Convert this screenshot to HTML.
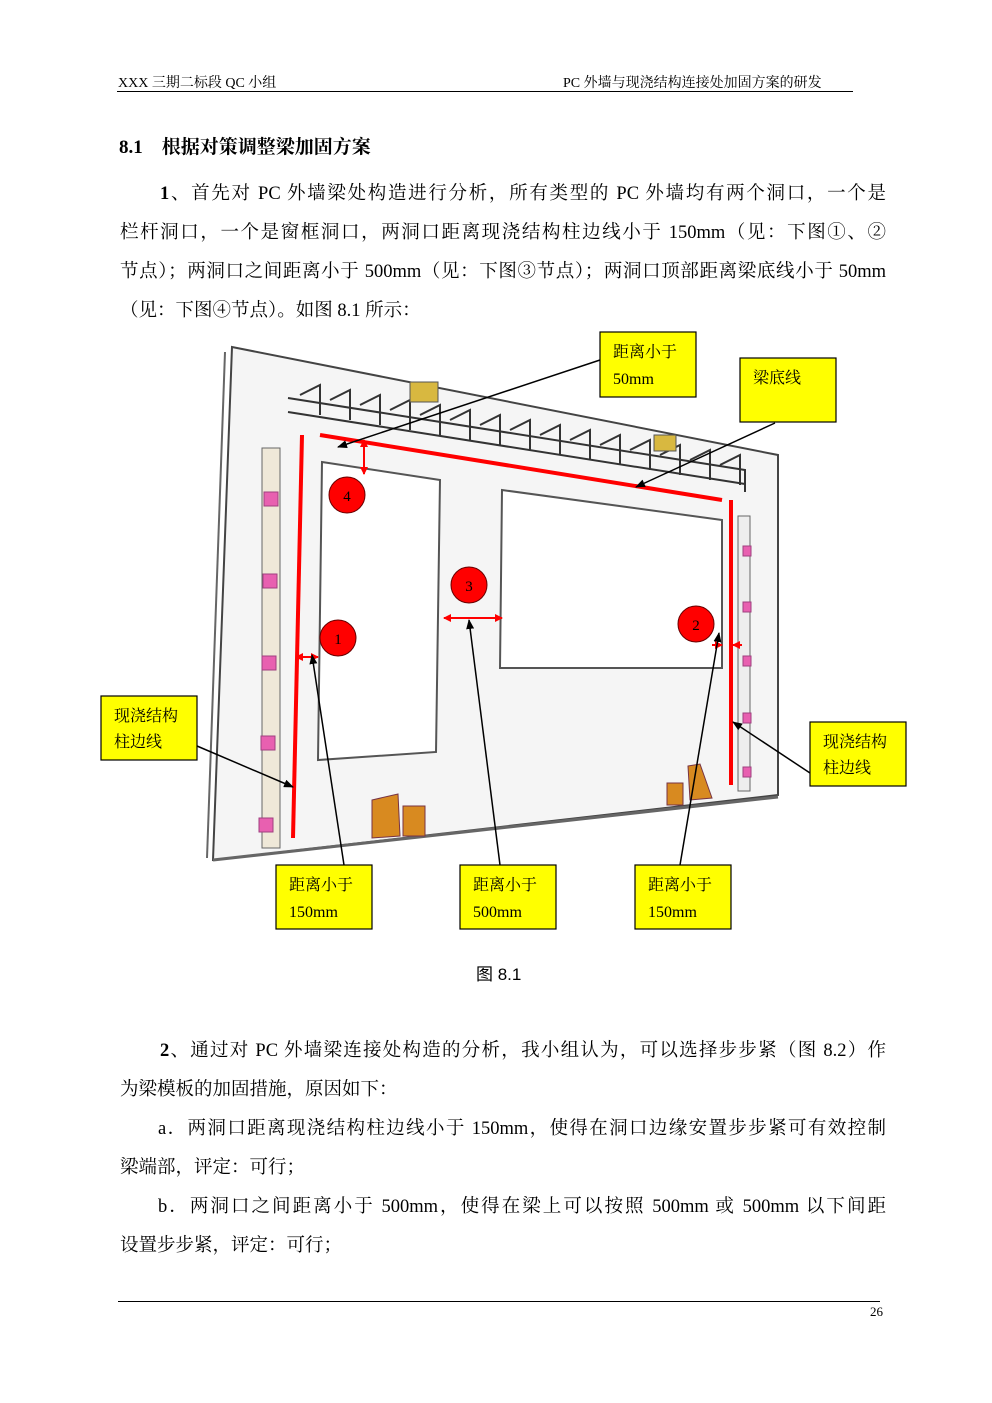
<!DOCTYPE html>
<html><head><meta charset="utf-8"><style>
body{margin:0;background:#fff;}
.pg{position:relative;width:992px;height:1403px;font-family:"Liberation Serif","Noto Serif CJK SC",serif;color:#000;}
.t{position:absolute;white-space:nowrap;}
.l{position:absolute;left:120px;width:766px;font-size:18.5px;line-height:24px;white-space:nowrap;}
.j{text-align:justify;text-align-last:justify;}
</style></head><body><div class="pg">
<div class="t" style="left:118px;top:72px;font-size:14px;">XXX 三期二标段 QC 小组</div>
<div class="t" style="left:563px;top:72px;font-size:14px;">PC 外墙与现浇结构连接处加固方案的研发</div>
<div style="position:absolute;left:117px;top:91px;width:736px;height:1px;background:#000"></div>
<div class="t" style="left:119px;top:132px;font-size:19px;font-weight:bold;">8.1　根据对策调整梁加固方案</div>
<div class="l j" style="top:182px;left:160px;width:726px;"><b>1</b>、首先对 PC 外墙梁处构造进行分析，所有类型的 PC 外墙均有两个洞口，一个是</div>
<div class="l j" style="top:221px;">栏杆洞口，一个是窗框洞口，两洞口距离现浇结构柱边线小于 150mm（见：下图①、②</div>
<div class="l j" style="top:260px;">节点）；两洞口之间距离小于 500mm（见：下图③节点）；两洞口顶部距离梁底线小于 50mm</div>
<div class="l" style="top:299px;">（见：下图④节点）。如图 8.1 所示：</div>
<svg style="position:absolute;left:0;top:0" width="992" height="1403" font-family="Liberation Serif,Noto Serif CJK SC,serif">
<defs><marker id="a" markerWidth="10" markerHeight="8" refX="9" refY="4" orient="auto" markerUnits="userSpaceOnUse"><path d="M0,0L10,4L0,8z" fill="#000"/></marker>
<marker id="r" markerWidth="8" markerHeight="8" refX="7" refY="4" orient="auto" markerUnits="userSpaceOnUse"><path d="M0,0L8,4L0,8z" fill="red"/></marker></defs>
<polygon points="232,347 778,455 778,795 213,860" fill="#f5f5f5" stroke="#444" stroke-width="2"/>
<line x1="225" y1="352" x2="207" y2="858" stroke="#666" stroke-width="2"/>
<line x1="213" y1="860" x2="778" y2="797" stroke="#666" stroke-width="3"/>
<g stroke="#333" stroke-width="2" fill="none">
<path d="M288,398 L745,470 L745,492 M288,412 L745,484"/>
<path d="M300,395l20,-10v30M330,400l20,-10v30M360,405l20,-10v30M390,410l20,-10v30M420,415l20,-10v30M450,420l20,-10v30M480,425l20,-10v30M510,430l20,-10v30M540,435l20,-10v30M570,440l20,-10v30M600,445l20,-10v30M630,450l20,-10v30M660,455l20,-10v30M690,460l20,-10v30M720,465l20,-10v30"/>
</g>
<rect x="410" y="382" width="28" height="20" fill="#d8b840" stroke="#555"/>
<rect x="654" y="435" width="22" height="16" fill="#d8b840" stroke="#555"/>
<g fill="#fff" stroke="#555" stroke-width="2">
<polygon points="322,462 440,480 436,752 318,760"/>
<polygon points="502,490 722,520 722,668 500,668"/>
</g>
<rect x="262" y="448" width="18" height="400" fill="#efe8d8" stroke="#666"/>
<rect x="738" y="516" width="12" height="275" fill="#eee" stroke="#666"/>
<g fill="#e860b0" stroke="#a04080"><rect x="264" y="492" width="14" height="14"/><rect x="263" y="574" width="14" height="14"/><rect x="262" y="656" width="14" height="14"/><rect x="261" y="736" width="14" height="14"/><rect x="259" y="818" width="14" height="14"/>
<rect x="743" y="546" width="8" height="10"/><rect x="743" y="602" width="8" height="10"/><rect x="743" y="656" width="8" height="10"/><rect x="743" y="713" width="8" height="10"/><rect x="743" y="767" width="8" height="10"/></g>
<g fill="#d88a20" stroke="#734"><polygon points="372,800 398,794 400,836 372,838"/><rect x="403" y="806" width="22" height="30"/><polygon points="688,766 700,764 712,798 690,800"/><rect x="667" y="783" width="16" height="22"/></g>
<g stroke="red" stroke-width="4" fill="none">
<line x1="302" y1="435" x2="293" y2="838"/><line x1="320" y1="435" x2="722" y2="500"/><line x1="731" y1="500" x2="731" y2="785"/></g>
<g stroke="red" stroke-width="2"><line x1="305" y1="657" x2="296" y2="657" marker-end="url(#r)"/><line x1="305" y1="657" x2="318" y2="657" marker-end="url(#r)"/>
<line x1="470" y1="618" x2="444" y2="618" marker-end="url(#r)"/><line x1="470" y1="618" x2="502" y2="618" marker-end="url(#r)"/>
<line x1="364" y1="455" x2="364" y2="440" marker-end="url(#r)"/><line x1="364" y1="455" x2="364" y2="474" marker-end="url(#r)"/>
<line x1="712" y1="645" x2="722" y2="645" marker-end="url(#r)"/><line x1="742" y1="645" x2="733" y2="645" marker-end="url(#r)"/></g>
<g fill="red" stroke="#600"><circle cx="347" cy="495" r="18"/><circle cx="338" cy="638" r="18"/><circle cx="469" cy="585" r="18"/><circle cx="696" cy="624" r="18"/></g>
<g font-size="15" text-anchor="middle"><text x="347" y="501">4</text><text x="338" y="644">1</text><text x="469" y="591">3</text><text x="696" y="630">2</text></g>
<g stroke="#000" stroke-width="1.5" marker-end="url(#a)"><line x1="600" y1="360" x2="338" y2="447"/><line x1="775" y1="423" x2="636" y2="487"/><line x1="197" y1="746" x2="293" y2="787"/><line x1="810" y1="773" x2="733" y2="722"/><line x1="344" y1="865" x2="312" y2="655"/><line x1="500" y1="865" x2="469" y2="620"/><line x1="680" y1="865" x2="719" y2="633"/></g>
<g fill="#ffff00" stroke="#000" stroke-width="1.2"><rect x="600" y="332" width="96" height="65"/><rect x="740" y="358" width="96" height="64"/><rect x="101" y="696" width="96" height="64"/><rect x="810" y="722" width="96" height="64"/><rect x="276" y="865" width="96" height="64"/><rect x="460" y="865" width="96" height="64"/><rect x="635" y="865" width="96" height="64"/></g>
<g font-size="16"><text x="613" y="357">距离小于</text><text x="613" y="384">50mm</text><text x="753" y="383">梁底线</text>
<text x="114" y="721">现浇结构</text><text x="114" y="747">柱边线</text><text x="823" y="747">现浇结构</text><text x="823" y="773">柱边线</text>
<text x="289" y="890">距离小于</text><text x="289" y="917">150mm</text><text x="473" y="890">距离小于</text><text x="473" y="917">500mm</text><text x="648" y="890">距离小于</text><text x="648" y="917">150mm</text></g>
</svg>
<div class="t" style="left:476px;top:960px;font-size:17px;font-family:'Liberation Sans','Noto Sans CJK SC',sans-serif;">图 8.1</div>
<div class="l j" style="top:1039px;left:160px;width:726px;"><b>2</b>、通过对 PC 外墙梁连接处构造的分析，我小组认为，可以选择步步紧（图 8.2）作</div>
<div class="l" style="top:1078px;">为梁模板的加固措施，原因如下：</div>
<div class="l j" style="top:1117px;left:158px;width:728px;">a．两洞口距离现浇结构柱边线小于 150mm，使得在洞口边缘安置步步紧可有效控制</div>
<div class="l" style="top:1156px;">梁端部，评定：可行；</div>
<div class="l j" style="top:1195px;left:158px;width:728px;">b．两洞口之间距离小于 500mm，使得在梁上可以按照 500mm 或 500mm 以下间距</div>
<div class="l" style="top:1234px;">设置步步紧，评定：可行；</div>
<div style="position:absolute;left:118px;top:1301px;width:762px;height:1px;background:#000"></div>
<div class="t" style="left:870px;top:1304px;font-size:13px;">26</div>
</div></body></html>
